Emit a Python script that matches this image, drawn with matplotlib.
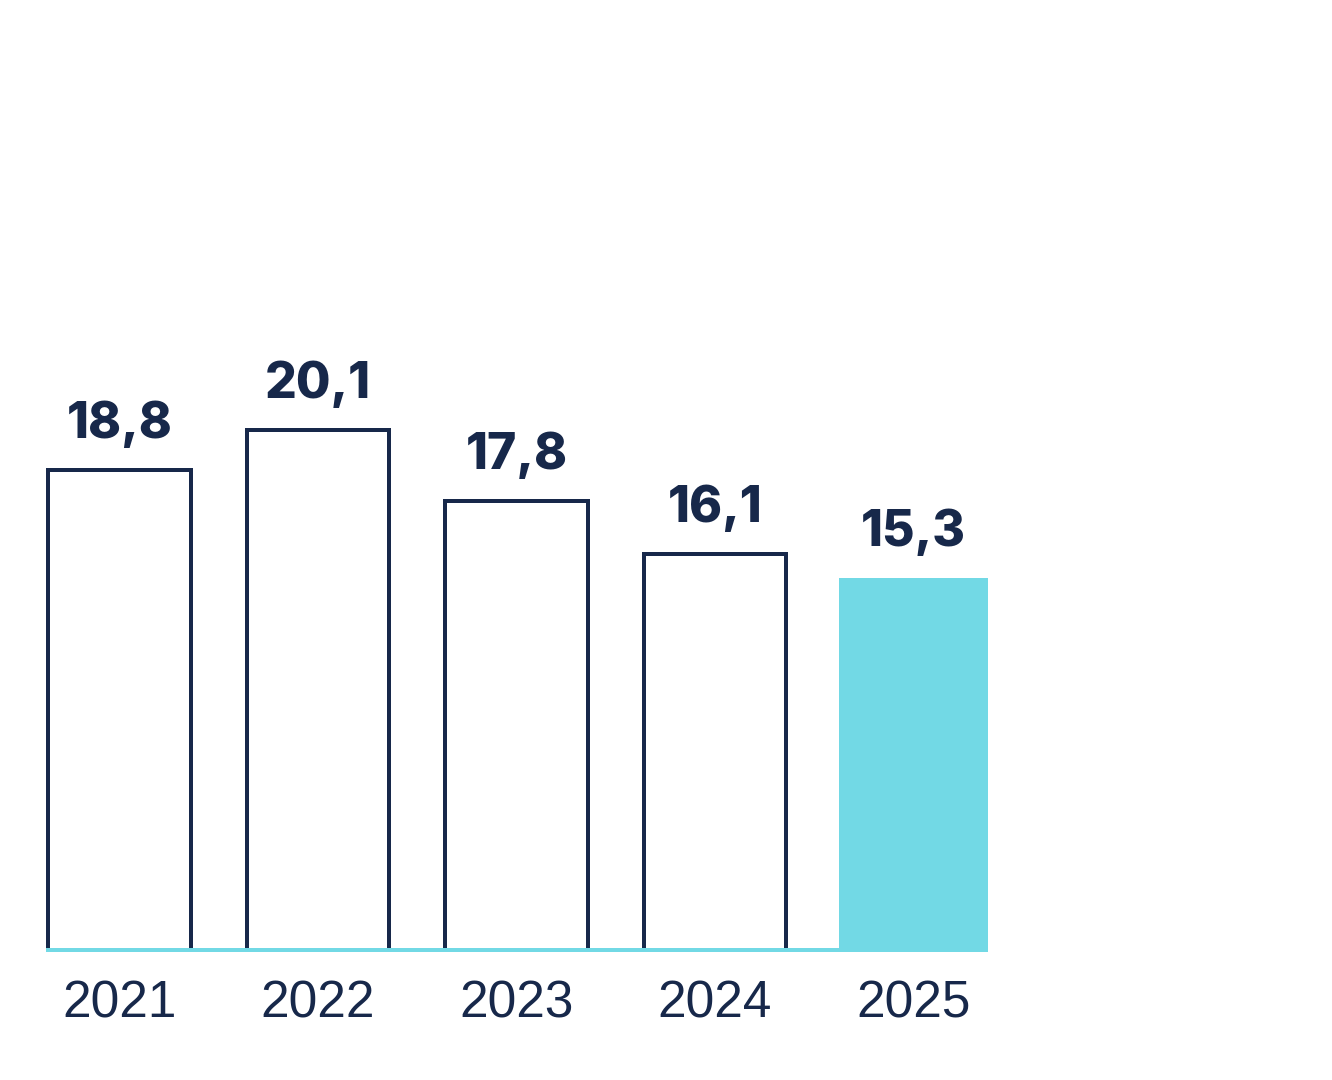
import matplotlib
matplotlib.use("Agg")
import matplotlib.pyplot as plt

# == Data ==
years = ["2021", "2022", "2023", "2024", "2025"]
values = [18.8, 20.1, 17.8, 16.1, 15.3]
value_labels = ["18,8", "20,1", "17,8", "16,1", "15,3"]

NAVY = "#17284a"
CYAN = "#72d9e5"

# == Figure ==
W, H, DPI = 1332, 1080, 100
fig = plt.figure(figsize=(W / DPI, H / DPI), dpi=DPI)
# axes runs from the baseline (pixel 950) up to the top edge
ax = fig.add_axes([0, 130 / H, 1, 950 / H])
ybase = 3.27
ax.set_ylim(ybase, ybase + 950 / 30.9)
ax.set_xlim(-119.5 / 198.5, (W - 119.5) / 198.5)
ax.axis("off")

lw = 4 * 72 / DPI
for i, (yr, v, lab) in enumerate(zip(years, values, value_labels)):
    last = i == len(years) - 1
    if last:
        ax.bar(i, v - ybase, bottom=ybase, width=0.75, color=CYAN, linewidth=0)
    else:
        ax.bar(i, v - ybase, bottom=ybase, width=0.72, facecolor="white",
               edgecolor=NAVY, linewidth=lw)
    ax.annotate(lab, (i, v), xytext=(0, 23), textcoords="offset points",
                ha="center", va="baseline", fontsize=36, fontweight="heavy",
                family=["Inter", "DejaVu Sans"], color=NAVY)
    ax.annotate(yr, (i, ybase), xytext=(0, -54 * 72 / DPI), textcoords="offset points",
                ha="center", va="center", fontsize=37,
                family=["Liberation Sans", "DejaVu Sans"], color=NAVY,
                annotation_clip=False)

# cyan baseline under all bars
ax.plot([-0.372, 4.375], [ybase, ybase], color=CYAN, linewidth=lw,
        solid_capstyle="butt", clip_on=False, zorder=3)

fig.savefig("out.png", dpi=DPI)
